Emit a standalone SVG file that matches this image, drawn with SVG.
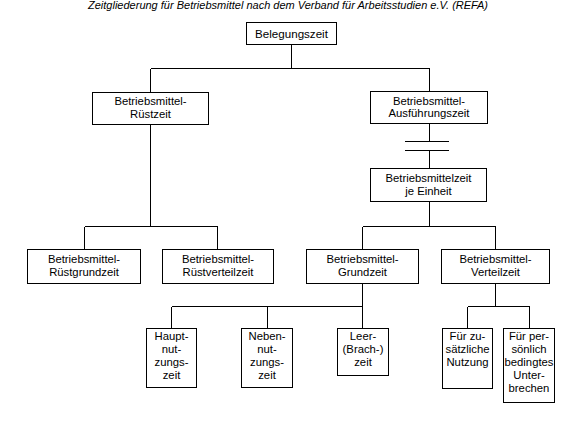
<svg xmlns="http://www.w3.org/2000/svg" width="576" height="427" viewBox="0 0 576 427">
<style>
.box{fill:#fff;stroke:#000;stroke-width:1;shape-rendering:crispEdges}
.ln{stroke:#000;stroke-width:1;fill:none;shape-rendering:crispEdges}
text{font-family:"Liberation Sans",Arial,sans-serif;font-size:11.3px;fill:#000;text-anchor:middle}
.title{font-style:italic;font-size:10.7px;text-anchor:start}
.big{font-size:11.6px}
</style>
<rect width="576" height="427" fill="#fff"/>
<text class="title" x="88" y="8.5" textLength="400" lengthAdjust="spacingAndGlyphs">Zeitgliederung für Betriebsmittel nach dem Verband für Arbeitsstudien e.V. (REFA)</text>
<g id="connectors">
<path class="ln" d="M291.5 44.5V68.5M150.5 68.5H429.5M150.5 68.5V92.5M429.5 68.5V91.5"/>
<path class="ln" d="M429.5 123.5V141.5M405 141.5H449M405 150.5H449M429.5 150.5V168.5"/>
<path class="ln" d="M150.5 124.5V226.5M84.5 226.5H217.5M84.5 226.5V249.5M217.5 226.5V249.5"/>
<path class="ln" d="M429.5 201.5V226.5M362.5 226.5H495.5M362.5 226.5V249.5M495.5 226.5V249.5"/>
<path class="ln" d="M362.5 283.5V306.5M171.5 306.5H362.5M171.5 306.5V328.5M267.5 306.5V328.5M362.5 306.5V328.5"/>
<path class="ln" d="M495.5 283.5V306.5M467.5 306.5H529.5M467.5 306.5V328.5M529.5 306.5V328.5"/>
</g>
<g id="belegungszeit">
<rect class="box" x="246.5" y="22.5" width="90" height="22"/>
<text class="big" x="291.5" y="38">Belegungszeit</text>
</g>
<g id="ruestzeit">
<rect class="box" x="92.5" y="92.5" width="116" height="32"/>
<text x="150.5" y="105">Betriebsmittel-</text>
<text x="150.5" y="118">Rüstzeit</text>
</g>
<g id="ausfuehrungszeit">
<rect class="box" x="370.5" y="91.5" width="117" height="32"/>
<text x="429" y="104.5">Betriebsmittel-</text>
<text x="429" y="117">Ausführungszeit</text>
</g>
<g id="einheit">
<rect class="box" x="370.5" y="168.5" width="116" height="33"/>
<text x="428.5" y="182">Betriebsmittelzeit</text>
<text x="428.5" y="195">je Einheit</text>
</g>
<g id="ruestgrundzeit">
<rect class="box" x="27.5" y="249.5" width="113" height="34"/>
<text x="84" y="262.5">Betriebsmittel-</text>
<text x="84" y="276">Rüstgrundzeit</text>
</g>
<g id="ruestverteilzeit">
<rect class="box" x="162.5" y="249.5" width="111" height="34"/>
<text x="218" y="262.5">Betriebsmittel-</text>
<text x="218" y="276">Rüstverteilzeit</text>
</g>
<g id="grundzeit">
<rect class="box" x="306.5" y="249.5" width="112" height="34"/>
<text x="362.5" y="262.5">Betriebsmittel-</text>
<text x="362.5" y="276">Grundzeit</text>
</g>
<g id="verteilzeit">
<rect class="box" x="441.5" y="249.5" width="108" height="34"/>
<text x="495.5" y="262.5">Betriebsmittel-</text>
<text x="495.5" y="276">Verteilzeit</text>
</g>
<g id="hauptnutzungszeit">
<rect class="box" x="146.5" y="328.5" width="50" height="59"/>
<text x="171.5" y="340">Haupt-</text>
<text x="171.5" y="353">nut-</text>
<text x="171.5" y="366">zungs-</text>
<text x="171.5" y="379">zeit</text>
</g>
<g id="nebennutzungszeit">
<rect class="box" x="241.5" y="328.5" width="51" height="59"/>
<text x="267" y="340">Neben-</text>
<text x="267" y="353">nut-</text>
<text x="267" y="366">zungs-</text>
<text x="267" y="379">zeit</text>
</g>
<g id="leerzeit">
<rect class="box" x="337.5" y="328.5" width="51" height="47"/>
<text x="363" y="340">Leer-</text>
<text x="363" y="353">(Brach-)</text>
<text x="363" y="366">zeit</text>
</g>
<g id="zusaetzliche-nutzung">
<rect class="box" x="442.5" y="328.5" width="50" height="60"/>
<text x="467.5" y="340">Für zu-</text>
<text x="467.5" y="353">sätzliche</text>
<text x="467.5" y="366">Nutzung</text>
</g>
<g id="persoenlich-bedingtes-unterbrechen">
<rect class="box" x="503.5" y="328.5" width="51" height="74"/>
<text x="529" y="340">Für per-</text>
<text x="529" y="353">sönlich</text>
<text x="529" y="366">bedingtes</text>
<text x="529" y="379">Unter-</text>
<text x="529" y="392">brechen</text>
</g>
</svg>
